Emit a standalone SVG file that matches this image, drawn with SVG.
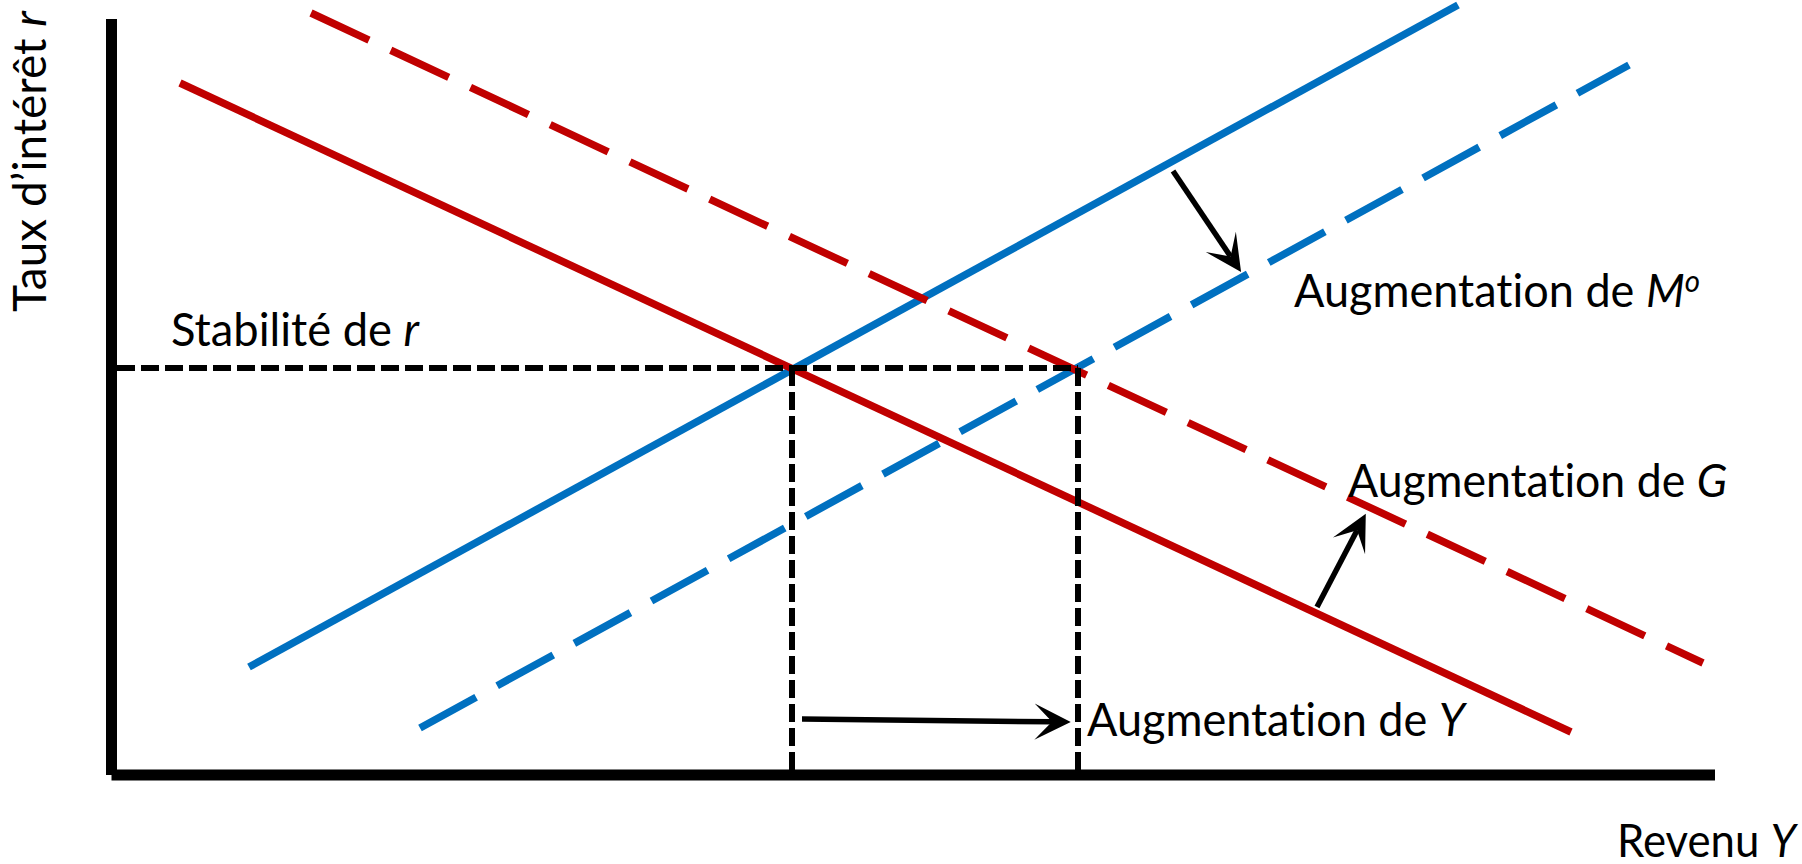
<svg xmlns="http://www.w3.org/2000/svg" width="1802" height="864" viewBox="0 0 1802 864">
  <style>
    .lbl { font-family: Lato, "Liberation Sans", sans-serif; font-size: 46px; fill: #000; font-variant-ligatures: none; font-feature-settings: "liga" 0, "clig" 0; }
    .it { font-style: italic; }
    .red { stroke: #C00000; stroke-width: 7.5; fill: none; }
    .blue { stroke: #0070C0; stroke-width: 7.5; fill: none; }
    .ldash { stroke-dasharray: 64 24; }
    .guide { stroke: #000; stroke-width: 6; stroke-dasharray: 18 6; fill: none; }
    .axis { stroke: #000; stroke-width: 11; fill: none; }
    .arrow { stroke: #000; stroke-width: 5.5; fill: none; marker-end: url(#stealth); }
  </style>
  <defs>
    <marker id="stealth" markerUnits="userSpaceOnUse" markerWidth="40" markerHeight="40" viewBox="-15 -16 32 32" refX="0" refY="0" orient="auto">
      <path d="M15,0 L-14,-14.5 L0,0 L-14,14.5 Z" fill="#000"/>
    </marker>
  </defs>
  <rect width="1802" height="864" fill="#fff"/>

  <g id="curves">
    <line id="lm-initial" class="blue" x1="249" y1="667" x2="1458" y2="5"/>
    <line id="lm-shifted" class="blue ldash" x1="420" y1="728" x2="1629" y2="65"/>
    <line id="is-initial" class="red" x1="180" y1="83" x2="1571" y2="732"/>
    <line id="is-shifted" class="red ldash" x1="311" y1="13" x2="1703" y2="663"/>
  </g>

  <g id="guides">
    <line class="guide" x1="117" y1="368" x2="1078" y2="368"/>
    <line class="guide" x1="792" y1="368" x2="792" y2="770"/>
    <line class="guide" x1="1078" y1="368" x2="1078" y2="770"/>
  </g>

  <g id="axes">
    <line class="axis" x1="111.5" y1="19" x2="111.5" y2="775"/>
    <line class="axis" x1="111.5" y1="775" x2="1715" y2="775"/>
  </g>

  <g id="connectors">
    <line class="arrow" x1="1173" y1="171" x2="1230.6" y2="256.5"/>
    <line class="arrow" x1="1317" y1="607" x2="1357.1" y2="530.3"/>
    <line class="arrow" x1="802" y1="719" x2="1052" y2="721.8"/>
  </g>

  <g id="label-y-axis">
    <text class="lbl" transform="translate(46,312) rotate(-90)" x="0" y="0" textLength="301" lengthAdjust="spacingAndGlyphs">Taux d’intérêt <tspan class="it">r</tspan></text>
  </g>
  <g id="label-x-axis">
    <text class="lbl" x="1617" y="857" textLength="179" lengthAdjust="spacingAndGlyphs">Revenu <tspan class="it">Y</tspan></text>
  </g>
  <g id="label-stabilite">
    <text class="lbl" x="171" y="346" textLength="248" lengthAdjust="spacingAndGlyphs">Stabilité de <tspan class="it">r</tspan></text>
  </g>
  <g id="label-m">
    <text class="lbl" x="1294" y="307" textLength="406" lengthAdjust="spacingAndGlyphs">Augmentation de <tspan class="it">M</tspan><tspan class="it" font-size="30" dy="-15">o</tspan></text>
  </g>
  <g id="label-g">
    <text class="lbl" x="1348" y="497" textLength="379" lengthAdjust="spacingAndGlyphs">Augmentation de <tspan class="it">G</tspan></text>
  </g>
  <g id="label-y">
    <text class="lbl" x="1087" y="736" textLength="378" lengthAdjust="spacingAndGlyphs">Augmentation de <tspan class="it">Y</tspan></text>
  </g>
</svg>
